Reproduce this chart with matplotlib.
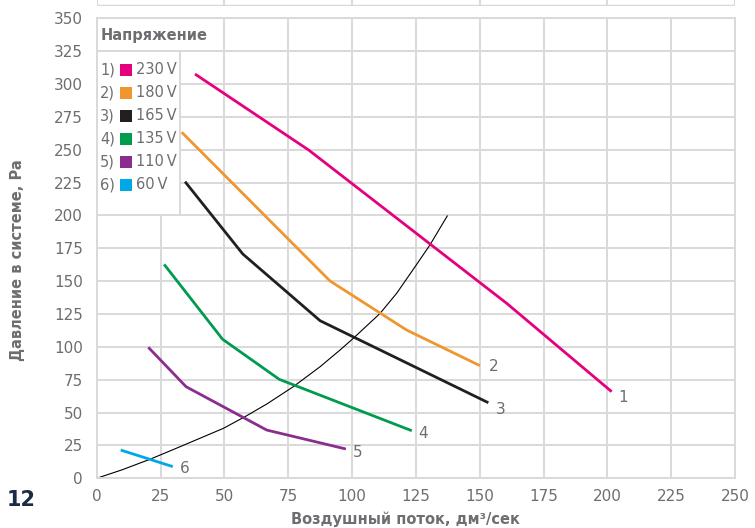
import matplotlib.pyplot as plt
from matplotlib.patches import Rectangle

# fan curves
x1 = [38.5, 83.0, 160.6, 201.7]
y1 = [307.6, 249.8, 133.1, 65.9]
x2 = [33.3, 91.4, 121.4, 150.1]
y2 = [263.3, 150.1, 112.8, 85.7]
x3 = [34.6, 57.2, 87.5, 153.4]
y3 = [225.7, 170.7, 119.9, 57.5]
x4 = [26.4, 49.3, 71.5, 123.4]
y4 = [162.8, 105.8, 75.3, 36.2]
x5 = [20.2, 35.0, 66.6, 97.6]
y5 = [99.7, 69.7, 36.7, 22.3]
x6 = [9.4, 29.8]
y6 = [21.5, 8.9]

# system resistance curve
xs = [0, 10, 20.9, 32.6, 49.6, 58.1, 66.6, 77.0, 87.5, 95.3, 100.5, 111.0, 117.5, 124.7, 130.5, 137.3]
ys = [0, 6.5, 14.5, 24.0, 38.0, 46.9, 56.5, 69.7, 84.9, 97.6, 106.5, 125.5, 140.8, 161.0, 177.5, 199.6]

voltages = ["230", "180", "165", "135", "110", "60"]
colors = ["#E5007E", "#F0962E", "#231F20", "#009B4E", "#8B2C8F", "#00A8E6"]
end_labels = ["1", "2", "3", "4", "5", "6"]
label_offsets = [(11, -6), (14, -1), (12, -7), (11, -3), (12, -4), (12, -2)]

xticks = list(range(0, 251, 25))
yticks = list(range(0, 351, 25))
strip_ticks = list(range(0, 251, 50))

gray = "#6d6e71"
grid_c = "#d9d9d9"

fig = plt.figure(figsize=(7.55, 5.28), dpi=100)
ax = fig.add_axes([96.7/755, 49.7/528, (735-96.7)/755, (478.3-18.3)/528])

ax.set_xlim(0, 250)
ax.set_ylim(0, 350)
ax.set_xticks(xticks)
ax.set_yticks(yticks)
ax.grid(True, color=grid_c, lw=1.4, zorder=0)
ax.set_axisbelow(True)
for s in ax.spines.values():
    s.set_color(grid_c)
    s.set_linewidth(1.4)
ax.tick_params(length=0, labelsize=11, labelcolor=gray)
ax.tick_params(axis="y", pad=10)
ax.tick_params(axis="x", pad=8)

# legend background covering the grid
ax.add_patch(Rectangle((0, 325), 49, 25, facecolor="white", edgecolor="none", zorder=1))
ax.add_patch(Rectangle((0, 200), 32.6, 125, facecolor="white", edgecolor=grid_c, lw=1.4, zorder=1))
ax.plot([0, 49], [325, 325], color=grid_c, lw=1.4, zorder=1.5)

xs_list = [x1, x2, x3, x4, x5, x6]
ys_list = [y1, y2, y3, y4, y5, y6]
for xx, yy, c, lab, off in zip(xs_list, ys_list, colors, end_labels, label_offsets):
    ax.plot(xx, yy, color=c, lw=2.0, zorder=3, solid_capstyle="butt")
    ax.annotate(lab, (xx[-1], yy[-1]), xytext=off, textcoords="offset pixels",
                ha="center", va="center", fontsize=11, color=gray)

ax.plot(xs, ys, color="black", lw=0.8, zorder=2)

# legend text
ax.text(1.7, 337.2, "Напряжение", fontsize=10.5, fontweight="bold", color=gray,
        va="center", ha="left", zorder=4)
for i, (v, c) in enumerate(zip(voltages, colors)):
    yy = 310.7 - i * 17.5
    ax.text(1.3, yy, f"{i + 1})", fontsize=10.5, color=gray, va="center", ha="left", zorder=4)
    ax.add_patch(Rectangle((9.3, yy - 4.3), 4.4, 8.6, facecolor=c, edgecolor="none", zorder=4))
    ax.text(15.3, yy, v + "\u2009V", fontsize=10.5, color=gray, va="center", ha="left", zorder=4)

fig.text(405/755, 1 - 519/528, "Воздушный поток, дм³/сек", fontsize=10.5,
         fontweight="bold", color=gray, ha="center", va="center")
fig.text(18/755, 1 - 260/528, "Давление в системе, Pa", fontsize=10.5,
         fontweight="bold", color=gray, ha="center", va="center", rotation=90)
fig.text(21/755, 1 - 500/528, "12", fontsize=15, fontweight="bold", color="#1b2a47",
         ha="center", va="center")

# strip of the chart above
ax2 = fig.add_axes([96.7/755, 1 - 5.5/528, (735-96.7)/755, 5.5/528])
ax2.set_xlim(0, 250)
ax2.set_ylim(0, 1)
for t in strip_ticks:
    ax2.axvline(t, color=grid_c, lw=1.4)
ax2.axhline(0, color=grid_c, lw=2.5)
ax2.axis("off")

fig.savefig("out.png", dpi=100)
